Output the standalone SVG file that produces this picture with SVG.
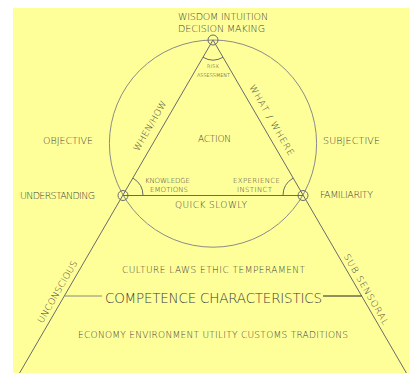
<svg xmlns="http://www.w3.org/2000/svg" width="409" height="373" viewBox="0 0 409 373">
<style>
text{font-family:"DejaVu Sans","Liberation Sans",sans-serif;font-weight:200;fill:#3c3c3c;text-anchor:middle}
.ln{stroke:#6a6a6a;stroke-width:1;fill:none}
.lt{stroke:#8a8a8a;stroke-width:1;fill:none}
.s10{font-size:9.5px}
.s9{font-size:9px}
.s7{font-size:7px}
.s5{font-size:5px;fill:#222}
.s14{font-size:13.5px}
</style>
<rect x="0" y="0" width="409" height="373" fill="#ffffff"/>
<rect x="13" y="8" width="396" height="365" fill="#ffff99"/>
<g id="connectors">
<circle class="lt" cx="213" cy="143.6" r="103.6"/>
<line class="ln" x1="213" y1="40" x2="19.6" y2="373"/>
<line class="ln" x1="213" y1="40" x2="406.4" y2="373"/>
<line class="ln" x1="123" y1="195.5" x2="303" y2="195.5"/>
<path class="ln" d="M203,57.3 A20,20 0 0 0 223,57.3"/>
<path class="ln" d="M143,195.5 A20,20 0 0 0 133,178.2"/>
<path class="ln" d="M283,195.5 A20,20 0 0 1 293,178.2"/>
<line x1="64.5" y1="296" x2="102" y2="296" stroke="#888" stroke-width="1"/>
<line x1="323" y1="296" x2="361.6" y2="296" stroke="#222" stroke-width="1"/>
</g>
<g id="apex">
<circle class="ln" cx="213" cy="40" r="5"/>
<text class="s10" x="223" y="20" textLength="90" lengthAdjust="spacing">WISDOM INTUITION</text>
<text class="s10" x="221.5" y="32" textLength="87" lengthAdjust="spacing">DECISION MAKING</text>
</g>
<g id="risk">
<text class="s5" x="213" y="68" textLength="12" lengthAdjust="spacing">RISK</text>
<text class="s5" x="213.5" y="77" textLength="33" lengthAdjust="spacing">ASSESSMENT</text>
</g>
<g id="action"><text class="s9" x="214.5" y="142" textLength="33" lengthAdjust="spacing">ACTION</text></g>
<g id="when-how"><text class="s9" transform="translate(152.6,127.4) rotate(-60)" x="0" y="0" textLength="56" lengthAdjust="spacing">WHEN/HOW</text></g>
<g id="what-where"><text class="s9" transform="translate(269,121.6) rotate(60)" x="0" y="0" textLength="80" lengthAdjust="spacing">WHAT  /  WHERE</text></g>
<g id="objective"><text class="s10" x="68" y="144" textLength="50" lengthAdjust="spacing">OBJECTIVE</text></g>
<g id="subjective"><text class="s10" x="351.5" y="144" textLength="57" lengthAdjust="spacing">SUBJECTIVE</text></g>
<g id="understanding">
<circle class="ln" cx="123" cy="195.5" r="5"/>
<text class="s10" x="57.5" y="199" textLength="75" lengthAdjust="spacing">UNDERSTANDING</text>
</g>
<g id="familiarity">
<circle class="ln" cx="303" cy="195.5" r="5"/>
<text class="s10" x="346.5" y="198" textLength="53" lengthAdjust="spacing">FAMILIARITY</text>
</g>
<g id="knowledge">
<text class="s7" x="167.5" y="183" textLength="45" lengthAdjust="spacing">KNOWLEDGE</text>
<text class="s7" x="169" y="192" textLength="38" lengthAdjust="spacing">EMOTIONS</text>
</g>
<g id="experience">
<text class="s7" x="256.5" y="183" textLength="47" lengthAdjust="spacing">EXPERIENCE</text>
<text class="s7" x="254.5" y="192" textLength="35" lengthAdjust="spacing">INSTINCT</text>
</g>
<g id="quick-slowly"><text class="s9" x="211" y="208" textLength="72" lengthAdjust="spacing">QUICK  SLOWLY</text></g>
<g id="culture"><text class="s9" x="213.5" y="272.5" textLength="183" lengthAdjust="spacing">CULTURE LAWS ETHIC TEMPERAMENT</text></g>
<g id="competence"><text class="s14" x="213.5" y="303" textLength="217" lengthAdjust="spacing">COMPETENCE  CHARACTERISTICS</text></g>
<g id="economy"><text class="s9" x="213" y="338" textLength="270" lengthAdjust="spacing">ECONOMY ENVIRONMENT UTILITY CUSTOMS TRADITIONS</text></g>
<g id="unconscious"><text class="s9" transform="translate(60,293.4) rotate(-60)" x="0" y="0" textLength="70" lengthAdjust="spacing">UNCONSCIOUS</text></g>
<g id="sub-sensoral"><text class="s9" transform="translate(363.5,290.9) rotate(60)" x="0" y="0" textLength="80" lengthAdjust="spacing">SUB SENSORAL</text></g>
</svg>
